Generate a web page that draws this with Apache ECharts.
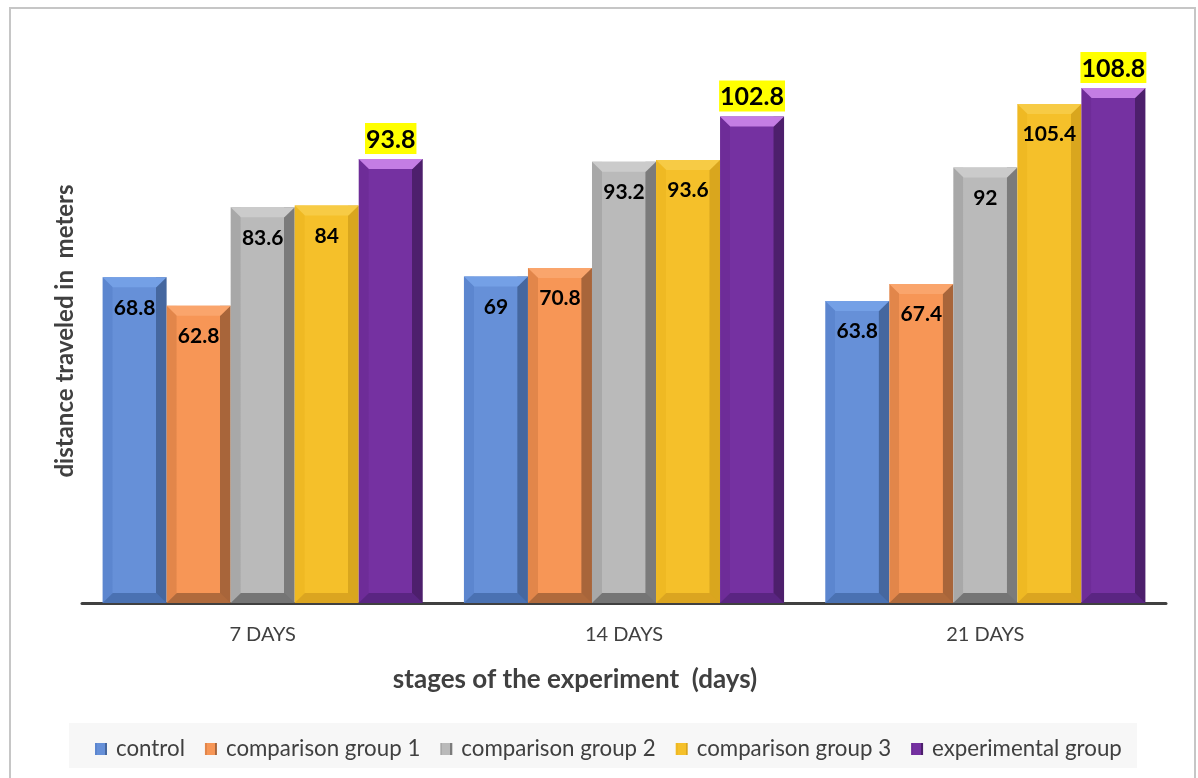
<!DOCTYPE html>
<html>
<head>
<meta charset="utf-8">
<script src="https://cdn.jsdelivr.net/npm/echarts@6/dist/echarts.min.js"></script>
<style>
html,body{margin:0;padding:0;background:#fff;}
#chart{width:1198px;height:778px;}
</style>
</head>
<body>
<div id="chart"></div>
<script>
const categories = ['7 DAYS', '14 DAYS', '21 DAYS'];
const seriesNames = ['control', 'comparison group 1', 'comparison group 2', 'comparison group 3', 'experimental group'];
const control = [68.8, 69, 63.8];
const comparison1 = [62.8, 70.8, 67.4];
const comparison2 = [83.6, 93.2, 92];
const comparison3 = [84, 93.6, 105.4];
const experimental = [93.8, 102.8, 108.8];
const xAxisTitle = 'stages of the experiment  (days)';
const yAxisTitle = 'distance traveled in  meters';

const values = [control, comparison1, comparison2, comparison3, experimental];
// [left edge, base, right edge, top bevel, bottom bevel]
const palettes = [
  ['#5c86cf', '#6690d8', '#45679f', '#74a0e6', '#4a71b2'],
  ['#e2864a', '#f79656', '#a8653a', '#faa56c', '#b06a3c'],
  ['#a8a8a8', '#bababa', '#7b7b7b', '#cbcbcb', '#757575'],
  ['#efb923', '#f5c02a', '#d9a61e', '#f7cb45', '#dba520'],
  ['#6e2c98', '#7531a1', '#4d1f6c', '#c47de4', '#5a2582']
];

function grad(p) {
  return new echarts.graphic.LinearGradient(0, 0, 1, 0, [
    {offset: 0, color: p[0]},
    {offset: 0.15, color: p[0]},
    {offset: 0.16, color: p[1]},
    {offset: 0.83, color: p[1]},
    {offset: 0.84, color: p[2]},
    {offset: 1, color: p[2]}
  ]);
}

const font = 'Lato, "Open Sans", sans-serif';
const gapCat = '11.4%';

const series = [];
seriesNames.forEach((name, i) => {
  const isExp = i === 4;
  series.push({
    name: name,
    type: 'bar',
    data: values[i],
    barGap: '0%',
    barCategoryGap: gapCat,
    itemStyle: {color: grad(palettes[i])},
    label: isExp ? {
      show: true,
      position: 'top',
      distance: 5,
      color: '#000',
      fontFamily: font,
      fontWeight: 'bold',
      fontSize: 25,
      backgroundColor: '#ffff00',
      padding: [4, 1, 2, 1]
    } : {
      show: true,
      position: 'insideTop',
      distance: 20,
      color: '#000',
      fontFamily: font,
      fontWeight: 'bold',
      fontSize: 21
    }
  });
});
// top bevels
seriesNames.forEach((name, i) => {
  series.push({
    name: name + ' top',
    type: 'pictorialBar',
    data: values[i],
    barGap: '0%',
    barCategoryGap: gapCat,
    symbol: 'path://M0,0 L100,0 L84,10 L16,10 Z',
    symbolKeepAspect: false,
    symbolSize: ['100%', 10],
    symbolPosition: 'end',
    z: 3,
    silent: true,
    itemStyle: {color: palettes[i][3]}
  });
});
// bottom bevels (on a twin hidden category axis)
seriesNames.forEach((name, i) => {
  series.push({
    name: name + ' bottom',
    type: 'pictorialBar',
    xAxisIndex: 1,
    data: values[i],
    barGap: '0%',
    barCategoryGap: gapCat,
    symbol: 'path://M16,0 L84,0 L100,10 L0,10 Z',
    symbolKeepAspect: false,
    symbolSize: ['100%', 10],
    symbolPosition: 'start',
    z: 3,
    silent: true,
    itemStyle: {color: palettes[i][4]}
  });
});

const chart = echarts.init(document.getElementById('chart'));
chart.setOption({
  animation: false,
  backgroundColor: '#fff',
  graphic: [
    {type: 'rect', z: -10, shape: {x: 10, y: 8, width: 1185, height: 790},
     style: {fill: 'none', stroke: '#c6c6c6', lineWidth: 2}},
    {type: 'rect', z: -10, shape: {x: 69, y: 723, width: 1068, height: 45},
     style: {fill: '#f7f7f7'}},
    {type: 'text', x: 575, y: 680, z: 5,
     style: {text: xAxisTitle, fontFamily: font, fontSize: 26, fontWeight: 'bold', fill: '#404040',
             align: 'center', verticalAlign: 'middle'}},
    {type: 'text', x: 65, y: 331, rotation: Math.PI / 2, z: 5,
     style: {text: yAxisTitle, fontFamily: font, fontSize: 24, fontWeight: 'bold', fill: '#404040',
             align: 'center', verticalAlign: 'middle'}}
  ],
  grid: {left: 82, right: 32, top: 35, bottom: 175},
  legend: {
    left: 90,
    top: 733,
    icon: 'rect',
    itemWidth: 12,
    itemHeight: 12,
    itemGap: 20,
    textStyle: {fontFamily: font, fontSize: 22.3, color: '#404040', lineHeight: 22, padding: [0, 0, 0, 4]},
    data: seriesNames
  },
  xAxis: [{
    type: 'category',
    data: categories,
    axisLine: {lineStyle: {color: '#404040', width: 3}},
    axisTick: {show: false},
    axisLabel: {fontFamily: font, fontSize: 20, color: '#404040', margin: 22}
  }, {
    type: 'category',
    data: categories,
    show: false
  }],
  yAxis: {
    type: 'value',
    min: 0,
    max: 120,
    axisLine: {show: false},
    axisTick: {show: false},
    axisLabel: {show: false},
    splitLine: {show: false}
  },
  series: series
});
</script>
</body>
</html>
